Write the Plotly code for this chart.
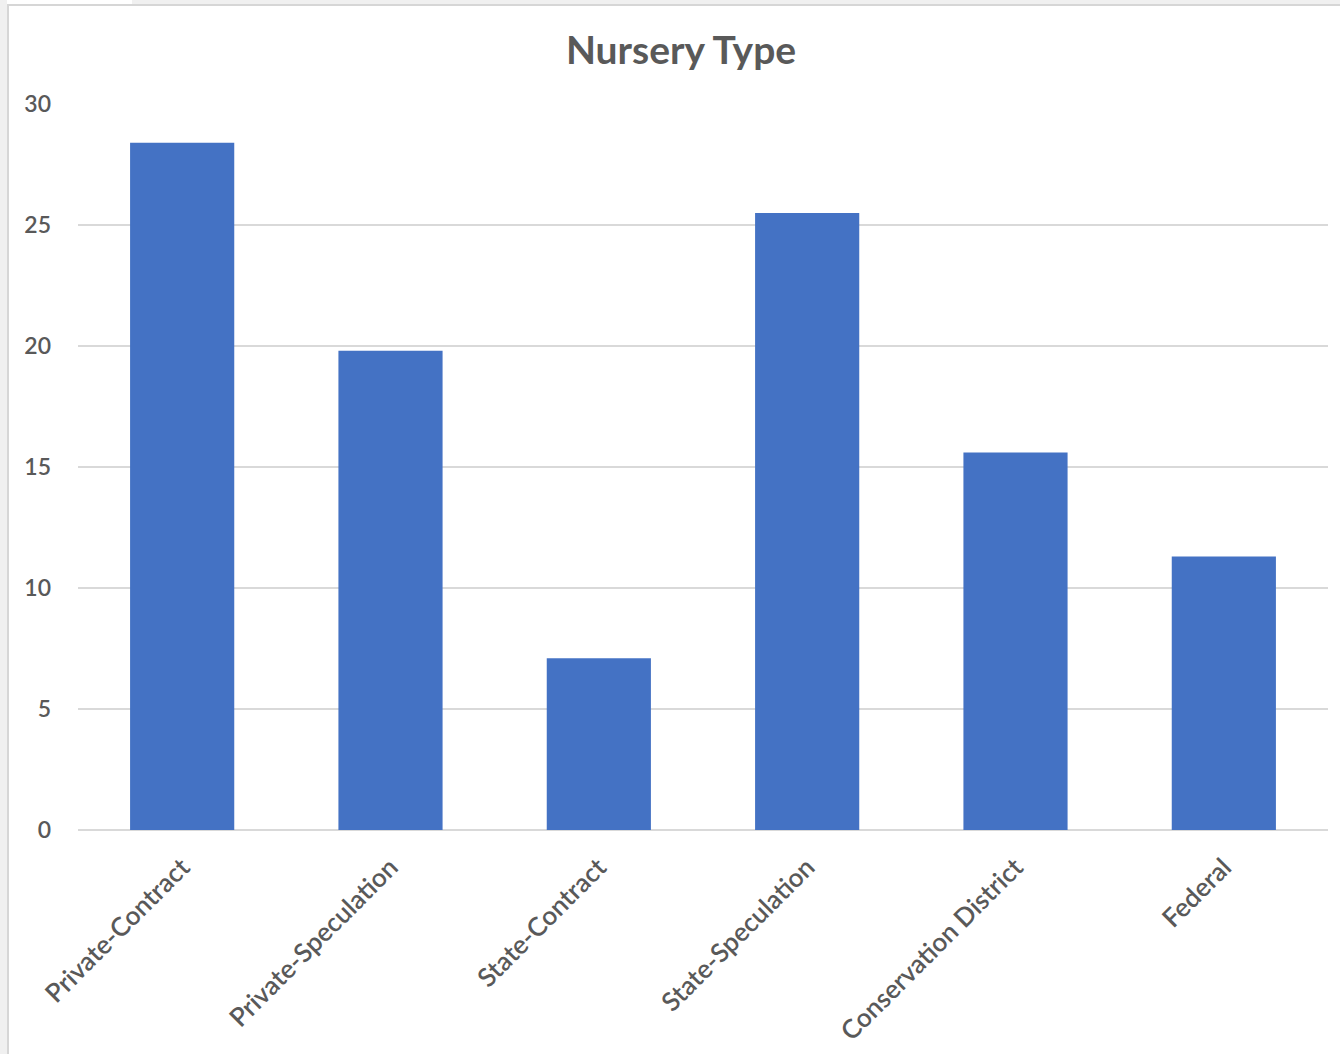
import plotly.graph_objects as go

# Nursery counts by type
categories = [
    "Private-Contract",
    "Private-Speculation",
    "State-Contract",
    "State-Speculation",
    "Conservation District",
    "Federal",
]
values = [28.4, 19.8, 7.1, 25.5, 15.6, 11.3]
y_ticks = [0, 5, 10, 15, 20, 25, 30]

W, H = 1340, 1054
M_L, M_R, M_T, M_B = 78, 12, 104, 224
PW, PH = W - M_L - M_R, H - M_T - M_B


def px_x(x):
    return (x - M_L) / PW


def px_y(y):
    return (H - M_B - y) / PH


TEXT = "#595959"
GRID = "#d9d9d9"
FONT = "Lato"

fig = go.Figure(
    go.Bar(
        x=categories,
        y=values,
        marker=dict(color="#4472C4", line=dict(width=0)),
        hoverinfo="x+y",
    )
)

# window frame around the chart
shapes = [
    dict(type="rect", xref="paper", yref="paper",
         x0=px_x(0), x1=px_x(7), y0=px_y(H), y1=px_y(0),
         fillcolor="#f0f0f0", line=dict(width=0), layer="below"),
    dict(type="rect", xref="paper", yref="paper",
         x0=px_x(132), x1=px_x(W), y0=px_y(4), y1=px_y(0),
         fillcolor="#f0f0f0", line=dict(width=0), layer="below"),
    dict(type="line", xref="paper", yref="paper",
         x0=px_x(8), x1=px_x(8), y0=px_y(H), y1=px_y(4),
         line=dict(color="#d6d6d6", width=2)),
    dict(type="line", xref="paper", yref="paper",
         x0=px_x(7), x1=px_x(W), y0=px_y(5), y1=px_y(5),
         line=dict(color="#d6d6d6", width=2)),
]

fig.update_layout(
    width=W,
    height=H,
    margin=dict(l=M_L, r=M_R, t=M_T, b=M_B, pad=0),
    paper_bgcolor="white",
    plot_bgcolor="white",
    bargap=0.5,
    showlegend=False,
    shapes=shapes,
    title=dict(
        text="<b>Nursery Type</b>",
        font=dict(family=FONT, size=39, color=TEXT),
        x=681 / W,
        xref="container",
        xanchor="center",
        y=1 - 50 / H,
        yref="container",
        yanchor="middle",
    ),
    xaxis=dict(
        tickangle=-45,
        tickfont=dict(family=FONT, size=26, color=TEXT, weight=600),
        showgrid=False,
        showline=False,
        ticks="",
        ticklabelstandoff=16,
        automargin=False,
    ),
    yaxis=dict(
        range=[0, 30],
        tickvals=y_ticks,
        tickfont=dict(family=FONT, size=23, color=TEXT, weight=600),
        showgrid=True,
        gridcolor=GRID,
        gridwidth=2,
        zeroline=True,
        zerolinecolor=GRID,
        zerolinewidth=2,
        showline=False,
        ticks="",
        ticklabelstandoff=26,
        automargin=False,
    ),
)

fig.write_html("out.html")
